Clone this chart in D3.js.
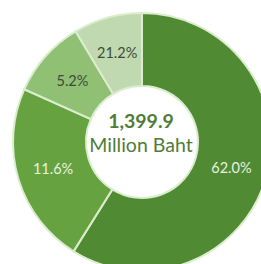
<!DOCTYPE html>
<html><head><meta charset="utf-8">
<script src="https://cdn.jsdelivr.net/npm/d3@7"></script>
<style>html,body{margin:0;padding:0;background:#fff;overflow:hidden}</style>
</head><body>
<svg id="c" width="261" height="264"></svg>
<script>
const categories = ["A", "B", "C", "D"];
const values = [58.9, 22.8, 9.7, 8.6];
const labels = ["62.0%", "11.6%", "5.2%", "21.2%"];
const colors = ["#508a33", "#66a340", "#8fc073", "#c0d9b0"];
const labelColors = ["#e8f2e0", "#e8f2e0", "#3f4a38", "#3f4a38"];
const totalText = "1,399.9";
const unitText = "Million Baht";

const svg = d3.select("#c");
const cx = 142, cy = 142, R = 129, r = 56;
const g = svg.append("g").attr("transform", `translate(${cx},${cy})`);
const pie = d3.pie().sort(null).value(d => d.v);
const data = pie(categories.map((c, i) => ({c, v: values[i], i})));
const arc = d3.arc().innerRadius(r).outerRadius(R);
g.selectAll("path").data(data).join("path")
  .attr("d", arc)
  .attr("fill", d => colors[d.data.i])
  .attr("stroke", "#dcedcf").attr("stroke-width", 2);

const labelArc = d3.arc().innerRadius(93).outerRadius(93);
g.selectAll("text.lbl").data(data).join("text")
  .attr("class", "lbl")
  .attr("transform", d => `translate(${labelArc.centroid(d)})`)
  .attr("text-anchor", "middle").attr("dy", "0.36em")
  .attr("font-family", "Lato, 'Open Sans', sans-serif").attr("font-size", 14.5)
  .attr("fill", d => labelColors[d.data.i])
  .text(d => labels[d.data.i]);

g.append("text").attr("x", -1).attr("y", -14).attr("text-anchor", "middle")
  .attr("font-family", "Lato, 'Open Sans', sans-serif").attr("font-weight", "bold")
  .attr("font-size", 19.5).attr("fill", "#4f7d38").text(totalText);
g.append("text").attr("x", -1).attr("y", 10).attr("text-anchor", "middle")
  .attr("font-family", "Lato, 'Open Sans', sans-serif")
  .attr("font-size", 19.5).attr("fill", "#4f7d38").text(unitText);
</script>
</body></html>
